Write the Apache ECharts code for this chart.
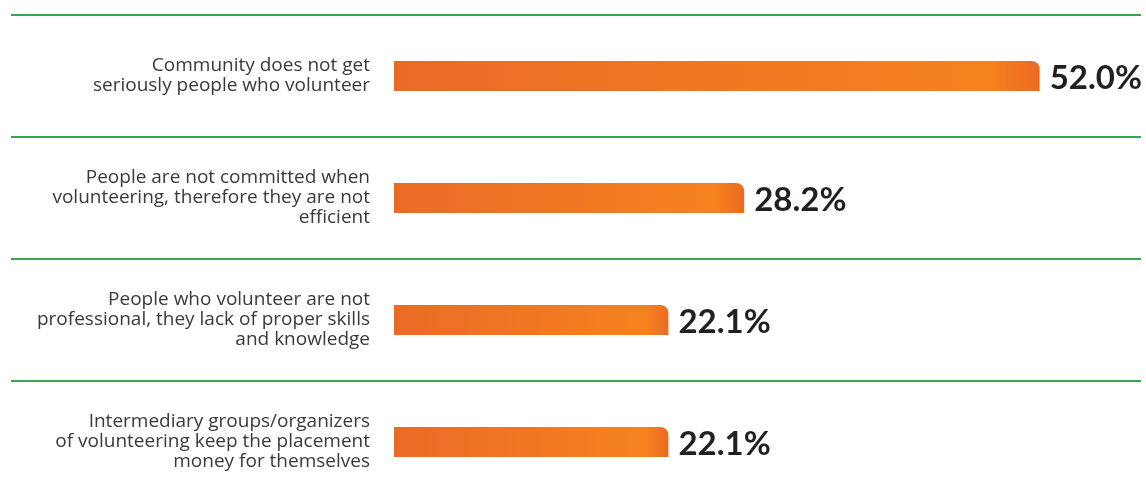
<!DOCTYPE html>
<html>
<head>
<meta charset="utf-8">
<script src="https://cdn.jsdelivr.net/npm/echarts@6/dist/echarts.min.js"></script>
<style>
  html, body { margin: 0; padding: 0; background: #ffffff; }
  #chart { width: 1146px; height: 495px; }
</style>
</head>
<body>
<div id="chart"></div>
<script>
// Reasons given for negative perception of volunteering (share of respondents, %)
const categories = [
  'Community does not get\nseriously people who volunteer',
  'People are not committed when\nvolunteering, therefore they are not\nefficient',
  'People who volunteer are not\nprofessional, they lack of proper skills\nand knowledge',
  'Intermediary groups/organizers\nof volunteering keep the placement\nmoney for themselves'
];
const values = [52.0, 28.2, 22.1, 22.1];

const chart = echarts.init(document.getElementById('chart'), null, { renderer: 'canvas' });

const barGradient = new echarts.graphic.LinearGradient(0, 0, 1, 0, [
  { offset: 0, color: '#EA6B26' },
  { offset: 0.92, color: '#F6821F' },
  { offset: 1, color: '#EC6A22' }
]);

// rows are ~122px tall; the last row runs past the bottom edge of the canvas
const gridTop = 15;
const gridHeight = 488;

chart.setOption({
  animation: false,
  grid: [
    // full-width band used for the row separators
    { left: 11, right: 5, top: gridTop, height: gridHeight, outerBoundsMode: 'none', containLabel: false },
    // plotting area for the bars
    { left: 394, right: 7, top: gridTop, height: gridHeight, outerBoundsMode: 'none', containLabel: false }
  ],
  xAxis: [
    { gridIndex: 0, type: 'value', min: 0, max: 1, show: false },
    { gridIndex: 1, type: 'value', min: 0, max: 60, show: false }
  ],
  yAxis: [
    {
      gridIndex: 0,
      type: 'category',
      data: categories,
      inverse: true,
      axisLine: { show: false },
      axisTick: { show: false },
      axisLabel: { show: false },
      splitLine: {
        show: true,
        lineStyle: { color: '#36a852', width: 2 }
      }
    },
    {
      gridIndex: 1,
      type: 'category',
      data: categories,
      inverse: true,
      axisLine: { show: false },
      axisTick: { show: false },
      splitLine: { show: false },
      axisLabel: {
        margin: 24,
        align: 'right',
        color: '#3a3a3a',
        fontFamily: 'Open Sans',
        fontSize: 19,
        lineHeight: 20
      }
    }
  ],
  series: [
    {
      type: 'bar',
      xAxisIndex: 1,
      yAxisIndex: 1,
      data: values,
      barWidth: 30,
      itemStyle: {
        color: barGradient,
        borderRadius: [0, 8, 0, 0]
      },
      label: {
        show: true,
        position: 'right',
        distance: 10,
        offset: [0, 2],
        formatter: p => p.value.toFixed(1) + '%',
        color: '#231f20',
        fontFamily: 'Lato',
        fontWeight: 'bold',
        fontSize: 33
      }
    }
  ]
});
</script>
</body>
</html>
